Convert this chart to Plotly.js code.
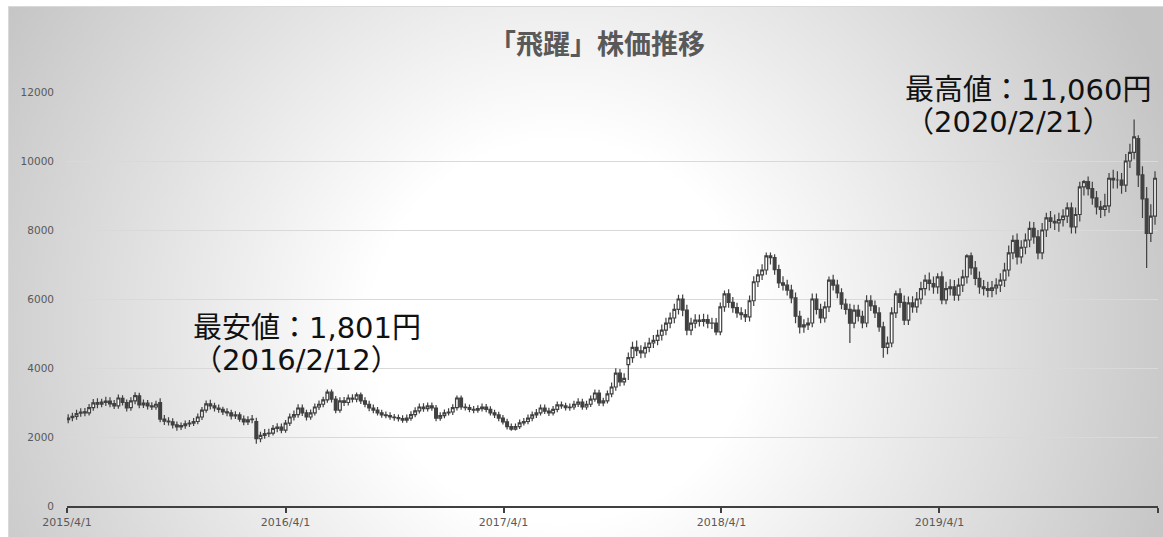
<!DOCTYPE html>
<html>
<head>
<meta charset="utf-8">
<script src="https://cdn.plot.ly/plotly-3.0.1.min.js"></script>
<style>
  html, body { margin: 0; padding: 0; width: 1163px; height: 537px; overflow: hidden; background: #ffffff; }
  #bg { position: absolute; left: 8px; top: 6px; width: 1170px; height: 545px;
        border: 1px solid #d9d9d9;
        background: radial-gradient(circle at 552px 324px, #ffffff 0px, #ffffff 190px, #c4c4c4 650px); }
  #chart { position: absolute; left: 0; top: 0; width: 1163px; height: 537px; }
</style>
</head>
<body>
<div id="bg"></div>
<div id="chart"></div>
<script>
// Weekly candles, first week ending 2015-04-03
const startWeek = '2015-04-03';

const opens = [
2500,2560,2600,2690,2730,2700,2850,3000,2950,3000,
3040,2970,2900,3120,3000,2850,3050,3190,2930,2980,
2900,2870,3000,2520,2460,2440,2350,2290,2330,2380,
2400,2450,2580,2780,2960,2900,2840,2800,2730,2700,
2610,2640,2520,2440,2500,2450,1950,2050,2100,2115,
2250,2290,2200,2400,2580,2650,2840,2700,2580,2700,
2870,2950,3075,3300,3100,2780,3050,3000,3130,3100,
3220,3050,2950,2840,2780,2700,2640,2620,2580,2560,
2530,2490,2550,2650,2760,2870,2820,2900,2840,2550,
2620,2700,2725,2850,3130,2870,2850,2800,2780,2820,
2870,2800,2700,2640,2550,2440,2300,2230,2300,2410,
2450,2550,2640,2700,2840,2750,2700,2800,2930,2900,
2850,2870,2950,3015,2870,2950,3100,3275,2990,3050,
3250,3450,3850,3600,4100,4300,4600,4500,4435,4600,
4725,4800,4950,5100,5300,5450,5700,6000,5680,5100,
5300,5390,5350,5400,5300,5305,5050,5770,6150,5900,
5750,5595,5550,5480,5950,6500,6700,6840,7250,7200,
6850,6465,6400,6260,6030,5500,5190,5250,5305,6000,
5700,5450,5770,6550,6400,6175,5850,5700,5300,5680,
5500,5305,5950,5800,5595,5190,4600,4725,5600,6150,
5900,5390,5885,5770,6000,6300,6550,6450,6350,6640,
5975,6300,6350,6115,6400,6640,7250,6900,6600,6350,
6300,6250,6320,6400,6550,6840,7335,7700,7220,7500,
7710,8050,7800,7335,8000,8350,8250,8205,8300,8400,
8640,8090,8450,9250,9400,9200,8930,8670,8600,8700,
9500,9450,9450,9300,10000,10250,10650,9600,8900,7900,
8400];

const highs = [
2660,2700,2790,2830,2840,2960,3100,3120,3110,3170,
3150,3070,3230,3210,3090,3150,3300,3280,3090,3070,
3010,3050,3120,2640,2570,2540,2450,2420,2480,2490,
2550,2680,2870,3060,3080,2990,2940,2880,2830,2790,
2750,2720,2620,2600,2640,2560,2150,2230,2240,2350,
2400,2390,2490,2680,2770,2950,2940,2790,2800,2970,
3060,3170,3380,3380,3190,3150,3160,3230,3240,3290,
3290,3150,3050,2940,2870,2790,2740,2720,2670,2650,
2630,2650,2750,2860,2970,2980,3000,3000,2930,2720,
2800,2830,2950,3200,3200,2970,2940,2900,2920,2970,
2960,2890,2790,2730,2640,2530,2390,2390,2510,2550,
2650,2740,2810,2940,2940,2850,2900,3030,3030,2990,
2970,3050,3120,3110,3050,3200,3380,3370,3140,3350,
3580,3990,3970,3850,4450,4760,4800,4660,4750,4880,
4960,5110,5260,5460,5610,5860,6120,6130,5830,5460,
5560,5550,5570,5550,5460,5450,5900,6250,6280,6060,
5890,5760,5700,6100,6660,6860,7010,7350,7350,7300,
6990,6660,6560,6410,6190,5660,5410,5460,6160,6160,
5860,5930,6650,6700,6560,6310,6010,5860,5830,5830,
5660,6110,6110,5960,5760,5340,4910,5760,6250,6310,
6100,6070,6080,6200,6500,6700,6770,6650,6750,6800,
6500,6570,6550,6600,6850,7300,7350,7100,6800,6550,
6500,6520,6600,6750,7050,7550,7850,7900,7700,7900,
8250,8230,8000,8200,8500,8550,8450,8500,8600,8800,
8800,8650,9400,9450,9550,9400,9130,8850,9050,9650,
9750,9700,9650,10200,10500,11200,10750,9850,9250,8750,
9700];

const lows = [
2400,2460,2500,2590,2600,2620,2760,2830,2860,2900,
2860,2810,2820,2910,2740,2760,2950,2830,2840,2800,
2780,2790,2430,2350,2330,2250,2180,2200,2240,2290,
2320,2370,2490,2700,2800,2740,2700,2640,2600,2510,
2520,2440,2340,2350,2400,1801,1850,1950,2000,2040,
2140,2110,2120,2320,2480,2560,2610,2480,2500,2620,
2780,2860,2990,3000,2690,2700,2900,2910,3000,3010,
2960,2860,2750,2690,2620,2560,2540,2500,2470,2450,
2410,2410,2470,2570,2680,2730,2740,2760,2460,2470,
2540,2620,2640,2770,2790,2770,2720,2690,2700,2740,
2720,2620,2550,2460,2360,2220,2180,2190,2230,2330,
2370,2460,2550,2620,2670,2610,2620,2720,2820,2770,
2760,2790,2870,2790,2790,2870,3020,2900,2890,2970,
3150,3340,3470,3490,3650,4150,4350,4280,4300,4460,
4580,4660,4800,4950,5150,5300,5550,5500,4950,4950,
5150,5200,5200,5150,5130,4950,4950,5630,5750,5600,
5460,5400,5330,5350,5800,6350,6550,6700,7000,6700,
6320,6250,6100,5880,5300,5000,5020,5100,5180,5550,
5300,5320,5620,6250,6020,5700,5550,4725,5150,5350,
5150,5180,5650,5450,5050,4300,4400,4600,5450,5750,
5250,5250,5600,5600,5850,6100,6250,6150,6150,5850,
5850,6100,5950,5950,6200,6450,6700,6400,6150,6100,
6050,6050,6130,6200,6350,6650,7150,7000,7030,7300,
7500,7600,7150,7150,7800,8050,8000,7950,8100,8200,
7900,7900,8250,9000,9000,8730,8450,8350,8400,8500,
9200,9200,9050,9100,9800,10050,9250,8350,6900,7650,
8150];

const closes = [
2550,2600,2680,2720,2700,2850,2990,2950,3010,3040,
2960,2900,3130,3000,2840,3050,3200,2930,2980,2900,
2870,2950,2520,2460,2440,2350,2290,2330,2380,2400,
2450,2580,2780,2960,2900,2840,2800,2725,2700,2610,
2640,2520,2440,2500,2520,1950,2050,2100,2115,2250,
2290,2200,2400,2580,2650,2840,2700,2580,2700,2870,
2950,3075,3300,3100,2780,3050,3000,3130,3100,3220,
3050,2950,2840,2780,2700,2640,2620,2580,2560,2530,
2490,2550,2650,2760,2870,2820,2900,2840,2550,2620,
2700,2725,2850,3130,2870,2850,2800,2780,2820,2870,
2800,2700,2640,2550,2440,2300,2230,2300,2410,2450,
2550,2640,2700,2840,2750,2700,2800,2930,2900,2850,
2870,2950,3015,2870,2950,3100,3275,2990,3050,3250,
3450,3850,3600,3700,4300,4600,4500,4435,4600,4725,
4800,4950,5100,5300,5450,5700,6000,5680,5100,5300,
5390,5350,5400,5300,5305,5050,5770,6150,5900,5750,
5595,5550,5480,5950,6500,6700,6840,7250,7200,6850,
6465,6400,6260,6030,5500,5190,5250,5305,6000,5700,
5450,5770,6550,6400,6175,5850,5700,5300,5680,5500,
5305,5950,5800,5595,5190,4600,4725,5600,6150,5900,
5390,5885,5770,6000,6300,6550,6450,6350,6640,5975,
6300,6350,6115,6400,6640,7250,6900,6600,6350,6300,
6250,6320,6400,6550,6840,7335,7700,7220,7500,7710,
8050,7800,7335,8000,8350,8250,8205,8300,8400,8640,
8090,8450,9250,9400,9200,8930,8670,8600,8700,9500,
9450,9450,9300,10000,10250,10700,9600,8900,7900,8400,
9500];

const xTickVals = ['2015-04-01','2016-04-01','2017-04-01','2018-04-01','2019-04-01','2020-04-01'];
const xTickText = ['2015/4/1','2016/4/1','2017/4/1','2018/4/1','2019/4/1',''];
const chartTitle = '「飛躍」株価推移';
const highLabel = ['最高値：11,060円', '（2020/2/21）'];
const lowLabel = ['最安値：1,801円', '（2016/2/12）'];

const t0 = Date.parse(startWeek + 'T00:00:00Z');
const dates = closes.map((_, i) => new Date(t0 + i * 7 * 86400000).toISOString().slice(0, 10));

const L = 67, R = 1158, T = 92, B = 506, W = 1163, H = 537;
const px = x => (x - L) / (R - L);
const py = y => (B - y) / (B - T);

const trace = {
  type: 'candlestick',
  x: dates, open: opens, high: highs, low: lows, close: closes,
  increasing: { line: { color: '#404040', width: 1.2 }, fillcolor: '#ffffff' },
  decreasing: { line: { color: '#404040', width: 1.2 }, fillcolor: '#404040' },
  whiskerwidth: 0,
  hoverinfo: 'none',
  showlegend: false
};

const annFont = { family: 'DejaVu Sans, Noto Sans CJK JP, sans-serif', size: 29, color: '#111111' };
function ann(text, x, y) {
  return { text: text, xref: 'paper', yref: 'paper', x: px(x), y: py(y),
           xanchor: 'left', yanchor: 'middle', showarrow: false, font: annFont };
}

const layout = {
  width: W, height: H,
  margin: { l: L, r: W - R, t: T, b: H - B, pad: 0 },
  paper_bgcolor: 'rgba(0,0,0,0)',
  plot_bgcolor: 'rgba(0,0,0,0)',
  boxgap: 0.05,
  title: { text: chartTitle, x: px(597), xref: 'paper', xanchor: 'center',
           y: 1 - 45 / H, yref: 'container', yanchor: 'middle',
           font: { family: 'Noto Sans CJK JP, sans-serif', size: 27, color: '#595959', weight: 'bold' } },
  xaxis: {
    type: 'date', range: ['2015-04-01', '2020-04-01'],
    rangeslider: { visible: false },
    tickmode: 'array', tickvals: xTickVals, ticktext: xTickText,
    ticks: 'outside', ticklen: 5, tickwidth: 2, tickcolor: '#404040',
    showline: true, linecolor: '#404040', linewidth: 2,
    showgrid: false, zeroline: false,
    tickfont: { family: 'DejaVu Sans, sans-serif', size: 11, color: '#595959' },
    fixedrange: true
  },
  yaxis: {
    range: [0, 12000], dtick: 2000, tick0: 0, tickformat: 'd',
    showgrid: true, gridcolor: '#d9d9d9', gridwidth: 1,
    zeroline: false, showline: false, ticks: '',
    ticklabelstandoff: 12,
    tickfont: { family: 'DejaVu Sans, sans-serif', size: 10.5, color: '#595959' },
    fixedrange: true
  },
  annotations: [
    ann(highLabel[0], 903, 90),
    ann(highLabel[1], 903, 122),
    ann(lowLabel[0], 191, 328),
    ann(lowLabel[1], 191, 360)
  ]
};

Plotly.newPlot('chart', [trace], layout, { displayModeBar: false, staticPlot: true });
</script>
</body>
</html>
